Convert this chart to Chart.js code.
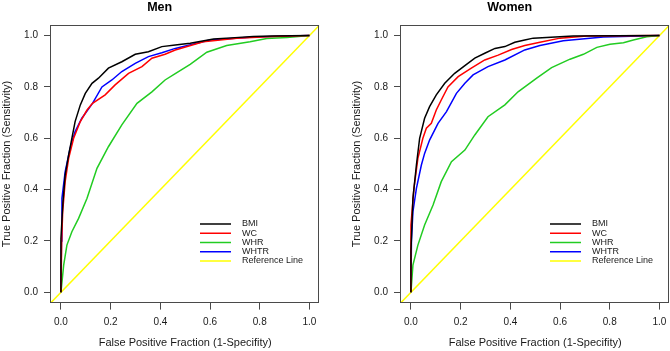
<!DOCTYPE html>
<html>
<head>
<meta charset="utf-8">
<script src="https://cdn.jsdelivr.net/npm/chart.js@4.4.1/dist/chart.umd.min.js"></script>
<style>
  html, body { margin: 0; padding: 0; background: #fff; }
  #wrap { position: relative; width: 670px; height: 351px; overflow: hidden; }
  #wrap canvas { position: absolute; top: 0; }
  #men { left: 0; }
  #women { left: 350px; }
</style>
</head>
<body>
<div id="wrap">
  <canvas id="men" width="320" height="351"></canvas>
  <canvas id="women" width="320" height="351"></canvas>
</div>
<script>
// ---------- Data ----------
const SERIES = ["BMI", "WC", "WHR", "WHTR", "Reference Line"];
const TICKS = [0, 0.2, 0.4, 0.6, 0.8, 1.0];
const REF_X = [-0.04, 1.04];
const REF_Y = [-0.04, 1.04];

// Men
const MEN_BMI_X  = [0, 0, 0.008, 0.017, 0.031, 0.044, 0.057, 0.078, 0.098, 0.125, 0.151, 0.191, 0.245, 0.299, 0.352, 0.406, 0.46, 0.52, 0.614, 0.7, 0.774, 0.85, 1];
const MEN_BMI_Y  = [0, 0.21, 0.35, 0.457, 0.535, 0.60, 0.665, 0.73, 0.775, 0.814, 0.834, 0.873, 0.898, 0.927, 0.937, 0.957, 0.963, 0.97, 0.987, 0.992, 0.996, 0.998, 1];
const MEN_WC_X   = [0, 0.003, 0.007, 0.017, 0.031, 0.051, 0.078, 0.105, 0.127, 0.178, 0.218, 0.272, 0.326, 0.366, 0.419, 0.46, 0.573, 0.708, 0.85, 1];
const MEN_WC_Y   = [0, 0.2, 0.314, 0.431, 0.522, 0.60, 0.665, 0.71, 0.736, 0.769, 0.808, 0.853, 0.879, 0.912, 0.927, 0.944, 0.976, 0.99, 0.996, 1];
const MEN_WHR_X  = [0, 0.011, 0.024, 0.044, 0.071, 0.105, 0.145, 0.191, 0.245, 0.306, 0.366, 0.419, 0.46, 0.52, 0.587, 0.667, 0.761, 0.828, 0.91, 1];
const MEN_WHR_Y  = [0, 0.106, 0.184, 0.236, 0.288, 0.366, 0.483, 0.567, 0.652, 0.736, 0.781, 0.827, 0.852, 0.888, 0.935, 0.961, 0.976, 0.989, 0.992, 1];
const MEN_WHTR_X = [0, 0.002, 0.004, 0.017, 0.037, 0.057, 0.084, 0.127, 0.165, 0.205, 0.245, 0.299, 0.352, 0.406, 0.46, 0.60, 0.774, 1];
const MEN_WHTR_Y = [0, 0.2, 0.366, 0.47, 0.561, 0.626, 0.678, 0.736, 0.80, 0.827, 0.86, 0.892, 0.918, 0.933, 0.95, 0.983, 0.994, 1];

// Women
const WOMEN_BMI_X  = [0, 0, 0.008, 0.022, 0.035, 0.055, 0.075, 0.102, 0.136, 0.176, 0.217, 0.257, 0.297, 0.338, 0.378, 0.418, 0.458, 0.492, 0.653, 1];
const WOMEN_BMI_Y  = [0, 0.158, 0.366, 0.496, 0.60, 0.678, 0.723, 0.769, 0.814, 0.853, 0.883, 0.912, 0.931, 0.95, 0.957, 0.974, 0.983, 0.99, 0.998, 1];
const WOMEN_WC_X   = [0, 0, 0.012, 0.028, 0.048, 0.062, 0.082, 0.102, 0.122, 0.149, 0.19, 0.243, 0.297, 0.351, 0.405, 0.458, 0.519, 0.6, 0.707, 1];
const WOMEN_WC_Y   = [0, 0.262, 0.405, 0.522, 0.60, 0.639, 0.658, 0.71, 0.749, 0.80, 0.84, 0.873, 0.905, 0.924, 0.946, 0.961, 0.974, 0.99, 0.998, 1];
const WOMEN_WHR_X  = [0, 0.008, 0.028, 0.055, 0.089, 0.122, 0.163, 0.217, 0.257, 0.31, 0.378, 0.431, 0.506, 0.566, 0.64, 0.694, 0.748, 0.801, 0.855, 0.895, 0.949, 1];
const WOMEN_WHR_Y  = [0, 0.106, 0.184, 0.262, 0.34, 0.431, 0.509, 0.554, 0.613, 0.684, 0.73, 0.781, 0.834, 0.875, 0.908, 0.927, 0.954, 0.966, 0.972, 0.983, 0.995, 1];
const WOMEN_WHTR_X = [0, 0.002, 0.008, 0.022, 0.042, 0.055, 0.075, 0.109, 0.143, 0.183, 0.217, 0.25, 0.31, 0.378, 0.458, 0.519, 0.613, 0.774, 1];
const WOMEN_WHTR_Y = [0, 0.2, 0.314, 0.405, 0.496, 0.541, 0.593, 0.658, 0.704, 0.775, 0.814, 0.847, 0.879, 0.905, 0.944, 0.961, 0.98, 0.994, 1];

// ---------- Styles ----------
const COLORS = ["#000000", "#ff0000", "#22cc22", "#0000ff", "#ffff00"];
const LINE_W = 1.5;
const FONT = "'Liberation Sans', Arial, Helvetica, sans-serif";
const AXIS_COLOR = "#4a4a4a";
const TEXT_COLOR = "#1a1a1a";

Chart.defaults.font.family = FONT;
Chart.defaults.color = TEXT_COLOR;

const toPoints = (xs, ys) => xs.map((x, i) => ({ x: x, y: ys[i] }));

// box round the plot region, R style
const boxPlugin = {
  id: "plotBox",
  afterDatasetsDraw(chart) {
    const { ctx, chartArea: a } = chart;
    ctx.save();
    ctx.strokeStyle = AXIS_COLOR;
    ctx.lineWidth = 1;
    const l = Math.round(a.left) - 0.5, t = Math.round(a.top) + 0.5;
    const r = Math.round(a.right) - 0.5, b = Math.round(a.bottom) - 0.5;
    ctx.strokeRect(l, t, r - l, b - t);
    ctx.restore();
  }
};

// legend inside the plot, no frame (bty = "n")
const legendPlugin = {
  id: "rocLegend",
  afterDatasetsDraw(chart) {
    const { ctx, chartArea: a } = chart;
    const x0 = a.left + 149;
    ctx.save();
    ctx.font = "9px " + FONT;
    ctx.textBaseline = "middle";
    ctx.textAlign = "left";
    chart.data.datasets.forEach((ds, i) => {
      const y = a.top + 198.7 + i * 9.25;
      ctx.strokeStyle = ds.borderColor;
      ctx.lineWidth = ds.borderWidth;
      ctx.beginPath();
      ctx.moveTo(x0, y);
      ctx.lineTo(x0 + 31, y);
      ctx.stroke();
      ctx.fillStyle = TEXT_COLOR;
      ctx.fillText(ds.label, x0 + 42, y);
    });
    ctx.restore();
  }
};

function makeDatasets(curves) {
  const ds = curves.map((c, i) => ({
    label: SERIES[i],
    data: toPoints(c[0], c[1]),
    borderColor: COLORS[i],
    backgroundColor: COLORS[i],
    borderWidth: LINE_W,
    pointRadius: 0,
    showLine: true,
    tension: 0,
    fill: false
  }));
  ds.push({
    label: SERIES[4],
    data: toPoints(REF_X, REF_Y),
    borderColor: COLORS[4],
    backgroundColor: COLORS[4],
    borderWidth: LINE_W,
    pointRadius: 0,
    showLine: true,
    fill: false
  });
  return ds;
}

function rocChart(id, title, curves) {
  const ctx = document.getElementById(id).getContext("2d");
  return new Chart(ctx, {
    type: "scatter",
    data: { datasets: makeDatasets(curves) },
    options: {
      responsive: false,
      animation: false,
      devicePixelRatio: 1,
      layout: { padding: { left: 0, right: 0.6, top: 0, bottom: 0 } },
      plugins: {
        legend: { display: false },
        tooltip: { enabled: false },
        title: {
          display: true,
          text: title,
          color: "#000",
          font: { size: 12.5, weight: "bold" },
          padding: { top: 0.5, bottom: 9.8 }
        }
      },
      scales: {
        x: {
          type: "linear",
          min: -0.04,
          max: 1.04,
          afterBuildTicks: (s) => { s.ticks = TICKS.map((v) => ({ value: v })); },
          afterFit: (s) => { s.height = 48.4; s.paddingLeft = 0; s.paddingRight = 0; },
          grid: { drawOnChartArea: false, drawTicks: true, tickLength: 7, color: AXIS_COLOR, tickColor: AXIS_COLOR },
          border: { display: false },
          ticks: { padding: 7, font: { size: 10 }, maxRotation: 0, autoSkip: false, callback: (v) => Number(v).toFixed(1) },
          title: { display: true, text: "False Positive Fraction (1-Specifity)", font: { size: 11 }, padding: { top: 0, bottom: 1.4 } }
        },
        y: {
          type: "linear",
          min: -0.04,
          max: 1.04,
          afterBuildTicks: (s) => { s.ticks = TICKS.map((v) => ({ value: v })); },
          afterFit: (s) => { s.width = 51; s.paddingTop = 0; s.paddingBottom = 0; },
          grid: { drawOnChartArea: false, drawTicks: true, tickLength: 7, color: AXIS_COLOR, tickColor: AXIS_COLOR },
          border: { display: false },
          ticks: { padding: 6, font: { size: 10 }, autoSkip: false, callback: (v) => Number(v).toFixed(1) },
          title: { display: true, text: "True Positive Fraction (Sensitivity)", font: { size: 11 }, padding: { top: 0.4, bottom: 0 } }
        }
      }
    },
    plugins: [boxPlugin, legendPlugin]
  });
}

rocChart("men", "Men", [
  [MEN_BMI_X, MEN_BMI_Y],
  [MEN_WC_X, MEN_WC_Y],
  [MEN_WHR_X, MEN_WHR_Y],
  [MEN_WHTR_X, MEN_WHTR_Y]
]);
rocChart("women", "Women", [
  [WOMEN_BMI_X, WOMEN_BMI_Y],
  [WOMEN_WC_X, WOMEN_WC_Y],
  [WOMEN_WHR_X, WOMEN_WHR_Y],
  [WOMEN_WHTR_X, WOMEN_WHTR_Y]
]);
</script>
</body>
</html>
